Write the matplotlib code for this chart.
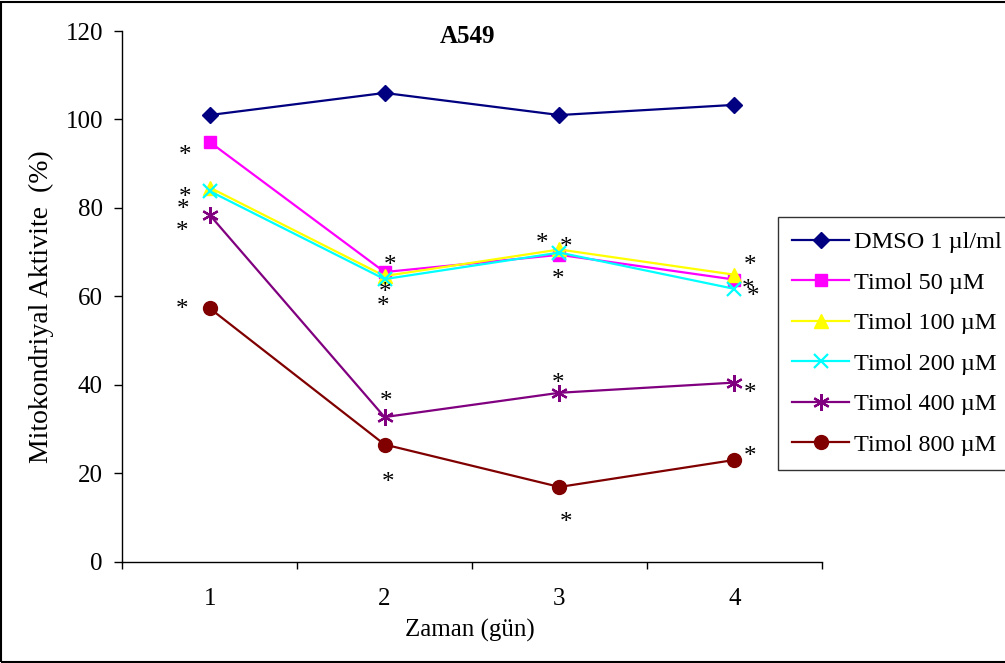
import matplotlib.pyplot as plt
import matplotlib.transforms as mtransforms
from matplotlib.patches import Rectangle

plt.rcParams['font.family'] = ['Liberation Serif', 'DejaVu Serif']

days = [1, 2, 3, 4]
labels = ['DMSO 1 µl/ml', 'Timol 50 µM', 'Timol 100 µM', 'Timol 200 µM',
          'Timol 400 µM', 'Timol 800 µM']
dmso = [101.0, 106.0, 101.0, 103.3]
timol_50 = [94.9, 65.5, 69.4, 63.8]
timol_100 = [84.6, 64.6, 70.6, 64.9]
timol_200 = [83.8, 63.9, 69.9, 61.7]
timol_400 = [78.4, 32.7, 38.2, 40.5]
timol_800 = [57.3, 26.5, 16.9, 23.0]

# significance asterisks (x, y in data units)
star_x = [0.86, 0.86, 0.85, 0.84, 0.84,
          2.03, 2.0, 1.99, 2.01, 2.02,
          2.9, 3.04, 2.99, 2.99, 3.04,
          4.09, 4.08, 4.11, 4.09, 4.09]
star_y = [93.1, 83.6, 80.7, 75.7, 58.1,
          68.2, 62.1, 58.8, 37.3, 19.0,
          73.2, 72.1, 64.9, 41.4, 9.9,
          68.2, 62.6, 61.0, 39.1, 24.9]

series = [dmso, timol_50, timol_100, timol_200, timol_400, timol_800]
colors = ['#000080', '#FF00FF', '#FFFF00', '#00FFFF', '#800080', '#800000']
markers = ['D', 's', '^', 'x', (6, 2, 0), 'o']
sizes = [8, 9, 10, 10, 12, 10]

fig = plt.figure(figsize=(10.05, 6.63), dpi=100)
ax = fig.add_axes([0.1217, 0.1528, 0.8176 - 0.1217, 0.9532 - 0.1528])

for vals, lab, c, m, ms in zip(series, labels, colors, markers, sizes):
    ax.plot(days, vals, color=c, marker=m, markersize=ms, lw=1.6,
            markeredgewidth=1.6 if m in ('x', (6, 2, 0)) else 1,
            markeredgecolor=c, label=lab)

off = mtransforms.ScaledTranslation(0, -4 / 72, fig.dpi_scale_trans)
for sx, sy in zip(star_x, star_y):
    ax.text(sx, sy, '*', fontsize=18, ha='center', va='center',
            transform=ax.transData + off)

ax.set_xlim(0.5, 4.5)
ax.set_ylim(0, 120)
ax.set_yticks(range(0, 121, 20))
ax.set_xticks([0.5, 1.5, 2.5, 3.5, 4.5])
ax.set_xticklabels([])
ax.set_xticks(days, minor=True)
ax.set_xticklabels([str(d) for d in days], minor=True)
ax.tick_params(axis='y', direction='out', length=6, width=1, pad=8, labelsize=18)
ax.tick_params(axis='x', which='major', direction='out', length=5, width=1)
ax.tick_params(axis='x', which='minor', length=0, pad=19, labelsize=18)
for s in ['top', 'right']:
    ax.spines[s].set_visible(False)
for s in ['left', 'bottom']:
    ax.spines[s].set_linewidth(1)

ax.text(0.494, 0.99, 'A549', transform=ax.transAxes, ha='center', va='center',
        fontsize=18, fontweight='bold')
fig.text(470 / 1005, 1 - 630 / 663, 'Zaman (gün)', ha='center', va='center', fontsize=18)
fig.text(41 / 1005, 1 - 307 / 663, 'Mitokondriyal Aktivite  (%)', ha='center',
         va='center', rotation=90, fontsize=20)

leg = fig.legend(loc='upper left', bbox_to_anchor=(778 / 1005, 1 - 217 / 663),
                 borderaxespad=0, fontsize=17.5, handlelength=2.35, handletextpad=0.2,
                 labelspacing=0.76, borderpad=0.58, frameon=True, fancybox=False)
leg.get_frame().set_edgecolor('black')
leg.get_frame().set_linewidth(1)

fig.patches.append(Rectangle((0.001, 0.002), 1.2, 0.995, transform=fig.transFigure,
                             fill=False, edgecolor='black', lw=1.5))

fig.savefig('out.png', dpi=100)
